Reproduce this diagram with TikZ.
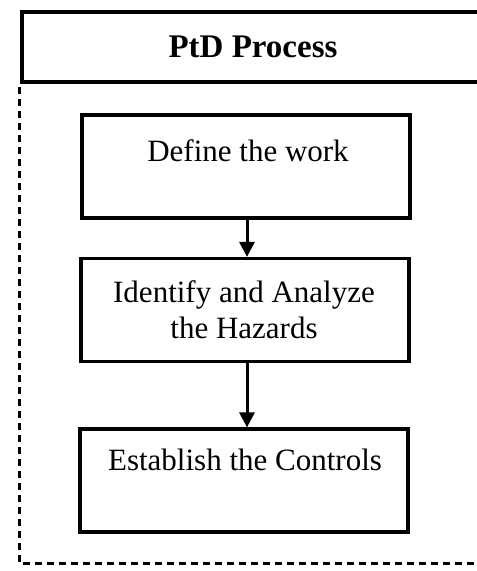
\documentclass[tikz,border=0pt]{standalone}
\usepackage{fontspec}
\setmainfont{Liberation Serif}
\usetikzlibrary{arrows.meta}

\tikzset{
    stepbox/.style={draw, line width=3.2pt, minimum width=328pt, minimum height=103pt, inner sep=0pt},
    steptext/.style={font=\fontsize{31}{36}\selectfont, align=center, inner sep=0pt},
    flow/.style={line width=3pt, -{Triangle[length=15pt,width=15pt]}}
}

\begin{document}
\begin{tikzpicture}[x=1pt, y=-1pt]
        \useasboundingbox (0,0) rectangle (477,571);
        \clip (0,0) rectangle (477,571);

        % header and dashed frame
        \draw[line width=3.4pt] (495,12) -- (22,12) -- (22,82) -- (495,82);
        \node[font=\bfseries\fontsize{33}{38}\selectfont, inner sep=0pt] (title) at (253,47) {PtD Process};
        \draw[line width=3pt, dash pattern=on 7pt off 5pt] (19,87) -- (19,563) -- (495,563);

        % the three steps
        \node[stepbox] (define) at (246,166.5) {};
        \node[stepbox] (identify) at (245,310) {};
        \node[stepbox] (establish) at (244,480.5) {};

        \node[steptext] (definetext) at (248,151) {Define the work};
        \node[steptext] (identifytext) at (244,310) {Identify and Analyze\\the Hazards};
        \node[steptext] (establishtext) at (245,460) {Establish the Controls};

        \draw[flow] (define.south -| 247,0) -- (identify.north -| 247,0);
        \draw[flow] (identify.south -| 247,0) -- (establish.north -| 247,0);
\end{tikzpicture}
\end{document}
